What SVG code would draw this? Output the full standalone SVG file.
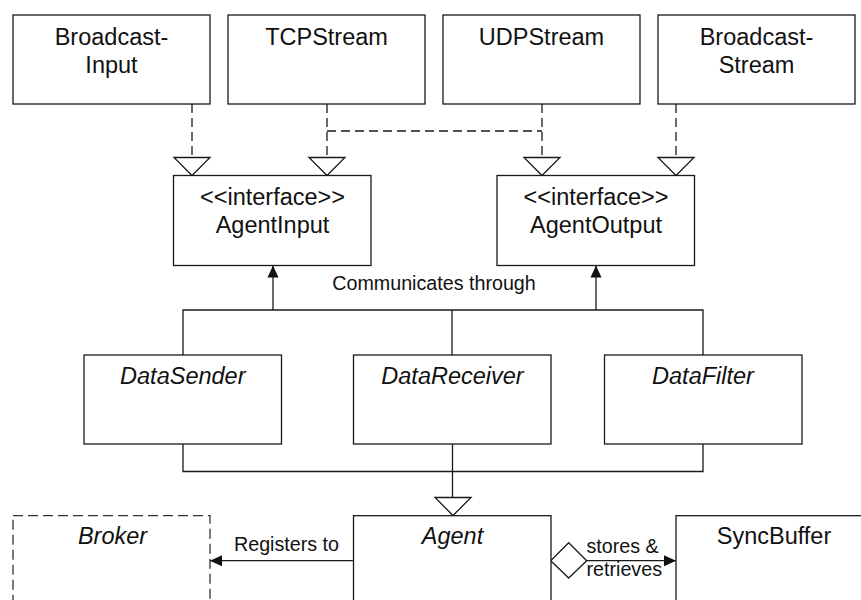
<svg xmlns="http://www.w3.org/2000/svg" width="861" height="600" viewBox="0 0 861 600">
  <style>
    .box { fill: #ffffff; stroke: #1a1a1a; stroke-width: 1.3; }
    .dbox { fill: #ffffff; stroke: #333333; stroke-width: 1.3; stroke-dasharray: 10,5; }
    .lbl { font-family: "Liberation Sans", Arial, sans-serif; font-size: 23.5px; fill: #111111; text-anchor: middle; }
    .it { font-style: italic; }
    .small { font-family: "Liberation Sans", Arial, sans-serif; font-size: 19.7px; fill: #111111; }
    .ln { fill: none; stroke: #1a1a1a; stroke-width: 1.3; }
    .dash { fill: none; stroke: #1a1a1a; stroke-width: 1.3; stroke-dasharray: 9,5; }
    .hollow { fill: #ffffff; stroke: #1a1a1a; stroke-width: 1.3; }
    .solid { fill: #111111; stroke: none; }
  </style>
  <defs>
    <marker id="filled" viewBox="0 0 12 12" refX="12" refY="6" markerWidth="12" markerHeight="12" markerUnits="userSpaceOnUse" orient="auto">
      <path d="M0,0.5 L12,6 L0,11.5 Z" class="solid"/>
    </marker>
  </defs>

  <rect x="0" y="0" width="861" height="600" fill="#ffffff"/>

  <!-- connectors -->
  <g id="connectors">
    <!-- realization links from the stream classes -->
    <path class="dash" d="M192,104 V157"/>
    <path class="dash" d="M327,104 V157"/>
    <path class="dash" d="M327,131 H542"/>
    <path class="dash" d="M542,104 V157"/>
    <path class="dash" d="M676,104 V157"/>
    <polygon class="hollow" points="174,157.5 210,157.5 192,175.5"/>
    <polygon class="hollow" points="309,157.5 345,157.5 327,175.5"/>
    <polygon class="hollow" points="524,157.5 560,157.5 542,175.5"/>
    <polygon class="hollow" points="658,157.5 694,157.5 676,175.5"/>

    <!-- communicates through -->
    <path class="ln" d="M183,355 V310 H703 V355"/>
    <path class="ln" d="M452,310 V355"/>
    <path class="ln" d="M273,310 V265.5" marker-end="url(#filled)"/>
    <path class="ln" d="M596,310 V265.5" marker-end="url(#filled)"/>
    <text class="small" x="434" y="290" text-anchor="middle">Communicates through</text>

    <!-- generalization to Agent -->
    <path class="ln" d="M183,444 V471.5 H703 V444"/>
    <path class="ln" d="M452.5,444 V497.5"/>
    <polygon class="hollow" points="435,497.5 471,497.5 453,515.5"/>

    <!-- registers to -->
    <path class="ln" d="M353.5,560.7 H210" marker-end="url(#filled)"/>
    <text class="small" x="286.5" y="550.5" text-anchor="middle">Registers to</text>

    <!-- stores and retrieves -->
    <polygon class="hollow" points="550.7,560.7 568.7,542.7 586.7,560.7 568.7,578"/>
    <path class="ln" d="M586.7,560.7 H676" marker-end="url(#filled)"/>
    <text class="small" x="586.5" y="553">stores &amp;</text>
    <text class="small" x="586.5" y="575.5">retrieves</text>
  </g>

  <!-- stream classes -->
  <g id="BroadcastInput">
    <rect class="box" x="13" y="15" width="197" height="89"/>
    <text class="lbl" x="111.5" y="45">Broadcast-</text>
    <text class="lbl" x="111.5" y="72.5">Input</text>
  </g>
  <g id="TCPStream">
    <rect class="box" x="228" y="15" width="197" height="89"/>
    <text class="lbl" x="326.5" y="45">TCPStream</text>
  </g>
  <g id="UDPStream">
    <rect class="box" x="443" y="15" width="197" height="89"/>
    <text class="lbl" x="541.5" y="45">UDPStream</text>
  </g>
  <g id="BroadcastStream">
    <rect class="box" x="658" y="15" width="197" height="89"/>
    <text class="lbl" x="756.5" y="45">Broadcast-</text>
    <text class="lbl" x="756.5" y="72.5">Stream</text>
  </g>

  <!-- interfaces -->
  <g id="AgentInput">
    <rect class="box" x="173.5" y="175.5" width="197.5" height="90"/>
    <text class="lbl" x="272.5" y="205">&lt;&lt;interface&gt;&gt;</text>
    <text class="lbl" x="272.5" y="232.5">AgentInput</text>
  </g>
  <g id="AgentOutput">
    <rect class="box" x="497" y="175.5" width="197.5" height="90"/>
    <text class="lbl" x="596" y="205">&lt;&lt;interface&gt;&gt;</text>
    <text class="lbl" x="596" y="232.5">AgentOutput</text>
  </g>

  <!-- abstract data workers -->
  <g id="DataSender">
    <rect class="box" x="84" y="355" width="197.5" height="89"/>
    <text class="lbl it" x="182.8" y="383.5">DataSender</text>
  </g>
  <g id="DataReceiver">
    <rect class="box" x="353.5" y="355" width="197.5" height="89"/>
    <text class="lbl it" x="452.5" y="383.5">DataReceiver</text>
  </g>
  <g id="DataFilter">
    <rect class="box" x="604.5" y="355" width="197.5" height="89"/>
    <text class="lbl it" x="703" y="383.5">DataFilter</text>
  </g>

  <!-- bottom row -->
  <g id="Broker">
    <rect class="dbox" x="13" y="515.7" width="197" height="110"/>
    <text class="lbl it" x="112.5" y="544">Broker</text>
  </g>
  <g id="Agent">
    <rect class="box" x="353.5" y="515.7" width="197.5" height="110"/>
    <text class="lbl it" x="452.5" y="544">Agent</text>
  </g>
  <g id="SyncBuffer">
    <rect class="box" x="676" y="515.7" width="196" height="110"/>
    <text class="lbl" x="774" y="544">SyncBuffer</text>
  </g>
</svg>
